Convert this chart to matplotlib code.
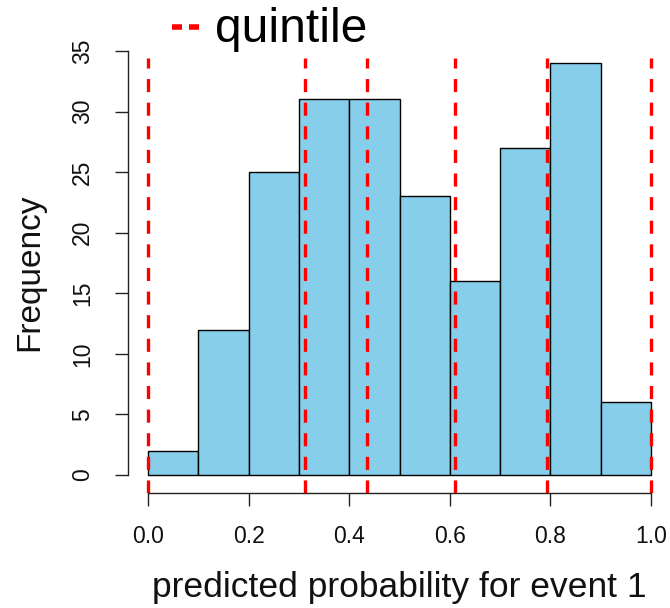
import matplotlib
matplotlib.use("Agg")
import matplotlib.pyplot as plt
from matplotlib.lines import Line2D
import numpy as np

plt.rcParams['font.family'] = ['Liberation Sans', 'DejaVu Sans']
plt.rcParams['lines.scale_dashes'] = False

# Histogram of predicted probabilities (bins of width 0.1)
bin_edges = [0.0, 0.1, 0.2, 0.3, 0.4, 0.5, 0.6, 0.7, 0.8, 0.9, 1.0]
counts = [2, 12, 25, 31, 31, 23, 16, 27, 34, 6]

# Quintile cut points of the predicted probabilities
quintiles = [0.0, 0.312, 0.435, 0.610, 0.793, 1.0]

x_ticks = [0.0, 0.2, 0.4, 0.6, 0.8, 1.0]
x_ticklabels = ["0.0", "0.2", "0.4", "0.6", "0.8", "1.0"]
y_ticks = [0, 5, 10, 15, 20, 25, 30, 35]

W, H = 670, 608
dpi = 100
fig = plt.figure(figsize=(W / dpi, H / dpi), dpi=dpi)

# Axes placement in pixels
px_x0, px_x1 = 148.0, 651.0     # data x = 0 and x = 1
px_y0, px_y35 = 475.0, 51.0     # data y = 0 and y = 35
xlim = (-0.04, 1.04)
ylim = (-1.45, 36.4)
sx = (px_x1 - px_x0)
sy = (px_y0 - px_y35) / 35.0
left_px = px_x0 + xlim[0] * sx
width_px = (xlim[1] - xlim[0]) * sx
bottom_px = px_y0 - ylim[0] * sy
height_px = (ylim[1] - ylim[0]) * sy
ax = fig.add_axes([left_px / W, (H - bottom_px) / H, width_px / W, height_px / H])
ax.set_xlim(*xlim)
ax.set_ylim(*ylim)

edges = np.array(bin_edges)
ax.bar(edges[:-1], counts, width=np.diff(edges), align='edge',
       color='#87CEEB', edgecolor='black', linewidth=1.0, zorder=2)

ax.vlines(quintiles, -1.45, 34.45, colors='#FF0000', linewidth=2.4,
          linestyles=[(0, (9.4, 7.6))], zorder=3)

for side in ['top', 'right']:
    ax.spines[side].set_visible(False)
ax.spines['left'].set_bounds(0, 35)
ax.spines['bottom'].set_bounds(0, 1)
for side in ['left', 'bottom']:
    ax.spines[side].set_linewidth(1.0)
    ax.spines[side].set_color('#222222')

ax.set_xticks(x_ticks)
ax.set_xticklabels(x_ticklabels)
ax.set_yticks(y_ticks)
ax.set_yticklabels([str(v) for v in y_ticks], rotation=90, va='center')
ax.tick_params(axis='both', length=9.5, width=1.0, color='#222222',
               labelsize=16.5, labelcolor='#111111')
ax.tick_params(axis='y', pad=15)
ax.tick_params(axis='x', pad=14)

fig.text(399 / W, 1 - 588 / H, "predicted probability for event 1",
         fontsize=25.5, ha='center', va='center', color='#111111')
fig.text(30 / W, 1 - 272 / H, "Frequency", fontsize=24, rotation=90,
         ha='center', va='center', color='#111111')

# Legend entry drawn above the plot
fig.text(215 / W, 1 - 42 / H, "quintile", fontsize=34.5, ha='left',
         va='baseline', color='black')
for xa, xb in [(172, 182), (189, 199)]:
    fig.add_artist(Line2D([xa / W, xb / W], [1 - 27 / H, 1 - 27 / H],
                          color='#FF0000', linewidth=4.0,
                          solid_capstyle='butt', transform=fig.transFigure))

fig.savefig("out.png", dpi=dpi)
